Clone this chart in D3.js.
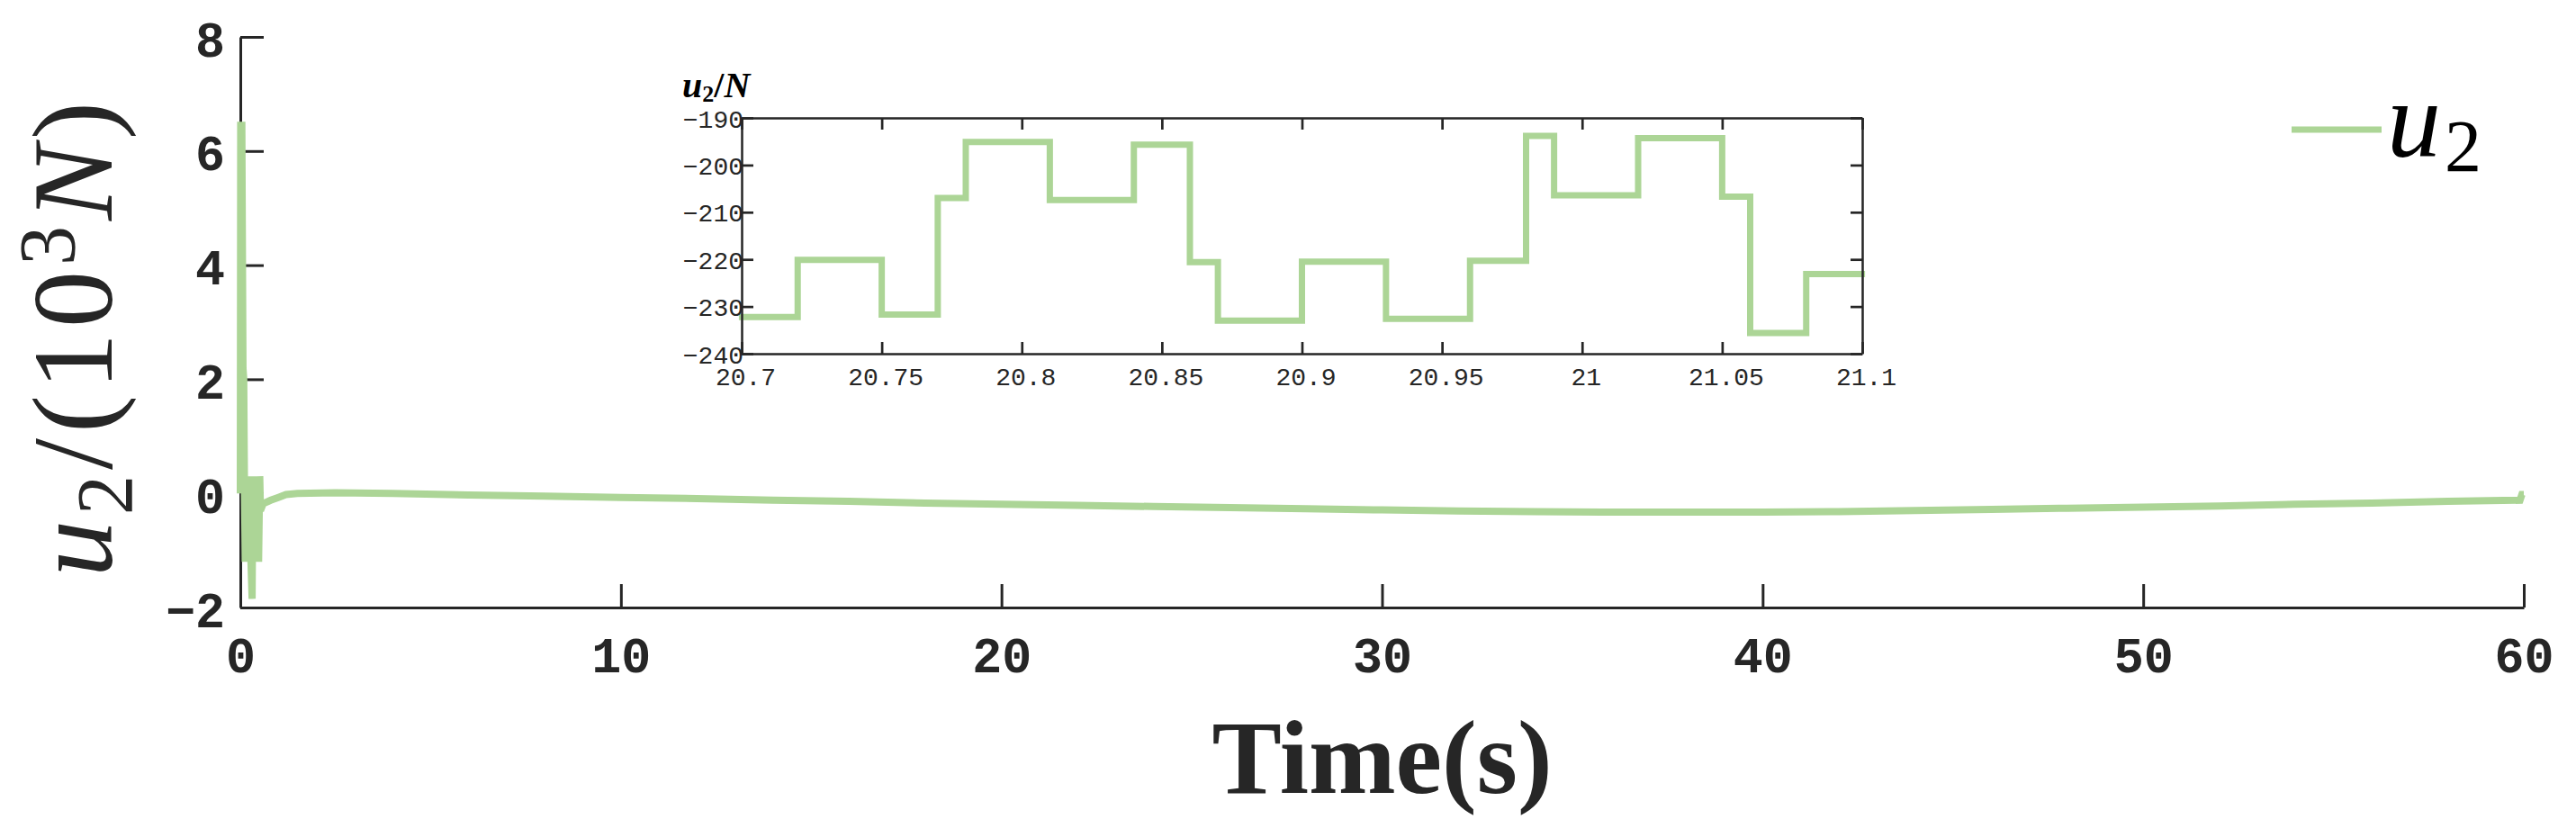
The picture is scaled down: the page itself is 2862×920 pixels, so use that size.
<!DOCTYPE html>
<html>
<head>
<meta charset="utf-8">
<script src="https://cdn.jsdelivr.net/npm/d3@7"></script>
<style>
  html, body { margin: 0; padding: 0; background: #fff; }
  svg { display: block; }
</style>
</head>
<body>
<svg id="chart" width="2862" height="920"></svg>
<script>
// ---------------- data ----------------
const mainTime = [0, 0.01, 0.04, 0.07, 0.09, 0.11, 0.13, 0.15, 0.17, 0.19, 0.21, 0.23, 0.25, 0.28, 0.31, 0.33, 0.36, 0.39, 0.42, 0.45, 0.48, 0.51, 0.53, 0.6, 0.8, 1.0, 1.2, 1.5, 2.5, 4, 6, 8, 10, 12, 14, 16, 18, 20, 22, 24, 26, 28, 30, 32, 34, 36, 38, 40, 42, 44, 46, 48, 50, 52, 54, 56, 58, 59.9, 59.95, 60];
const mainU2 = [0, 6.45, 6.45, 2.2, 2.0, 0.0, -1.2, 0.0, -1.2, 0.0, -1.2, 0.0, 0.3, -1.2, -1.85, 0.3, -1.2, 0.3, -1.2, 0.3, -1.2, 0.3, -0.3, -0.18, -0.12, -0.07, -0.02, 0.0, 0.01, 0.0, -0.03, -0.05, -0.07, -0.09, -0.12, -0.14, -0.17, -0.19, -0.21, -0.23, -0.25, -0.27, -0.29, -0.31, -0.32, -0.33, -0.33, -0.33, -0.32, -0.30, -0.28, -0.26, -0.24, -0.22, -0.19, -0.17, -0.14, -0.12, -0.02, -0.02];

const xTicks = [0, 10, 20, 30, 40, 50, 60];
const yTicks = [-2, 0, 2, 4, 6, 8];

const insetTime = [20.699, 20.72, 20.75, 20.77, 20.78, 20.81, 20.84, 20.86, 20.87, 20.90, 20.93, 20.96, 20.98, 20.99, 21.02, 21.05, 21.06, 21.08, 21.101];
const insetU2 = [-232.2, -220.1, -231.7, -207.0, -195.1, -207.4, -195.7, -220.6, -233.0, -220.5, -232.6, -220.3, -193.8, -206.4, -194.3, -206.7, -235.6, -223.1, -223.1];

const insetXTicks = [20.7, 20.75, 20.8, 20.85, 20.9, 20.95, 21, 21.05, 21.1];
const insetXLabels = ["20.7", "20.75", "20.8", "20.85", "20.9", "20.95", "21", "21.05", "21.1"];
const insetYTicks = [-240, -230, -220, -210, -200, -190];

const seriesName = "u";
const seriesSub = "2";

// ---------------- styles ----------------
const GREEN = "#acd596";
const INK = "#262626";

const svg = d3.select("#chart");
svg.append("rect").attr("width", 2862).attr("height", 920).attr("fill", "#fff");

// ---------------- main plot ----------------
const x = d3.scaleLinear().domain([0, 60]).range([267, 2804]);
const y = d3.scaleLinear().domain([-2, 8]).range([675, 41]);

const gx = svg.append("g").attr("transform", `translate(0,${y(-2)})`)
  .call(d3.axisBottom(x).tickValues(xTicks).tickSizeInner(-26).tickSizeOuter(0).tickFormat(d3.format("d")));
gx.select(".domain").attr("stroke", INK).attr("stroke-width", 3);
gx.selectAll(".tick line").attr("stroke", INK).attr("stroke-width", 3);
gx.selectAll(".tick text")
  .attr("y", 72).attr("dy", null)
  .attr("fill", INK)
  .style("font-family", "'Liberation Mono', 'Courier New', monospace")
  .style("font-weight", "bold")
  .style("font-size", "55px");

const gy = svg.append("g").attr("transform", `translate(${x(0)},0)`)
  .call(d3.axisLeft(y).tickValues(yTicks).tickSizeInner(-26).tickSizeOuter(0).tickPadding(17));
gy.select(".domain").attr("stroke", INK).attr("stroke-width", 3);
gy.selectAll(".tick line").attr("stroke", INK).attr("stroke-width", 3);
gy.selectAll(".tick text")
  .attr("dy", "21px")
  .attr("fill", INK)
  .style("font-family", "'Liberation Mono', 'Courier New', monospace")
  .style("font-weight", "bold")
  .style("font-size", "55px");

const mainData = mainTime.map((t, i) => [t, mainU2[i]]);
svg.append("path")
  .datum(mainData)
  .attr("fill", "none")
  .attr("stroke", GREEN)
  .attr("stroke-width", 8)
  .attr("stroke-linejoin", "miter")
  .attr("d", d3.line().x(d => x(d[0])).y(d => y(d[1])));

// x label
svg.append("text")
  .attr("x", (x(0) + x(60)) / 2).attr("y", 881)
  .attr("text-anchor", "middle")
  .attr("fill", INK)
  .style("font-family", "'Liberation Serif', 'Times New Roman', serif")
  .style("font-weight", "bold")
  .style("font-size", "116px")
  .text("Time(s)");

// y label
const yl = svg.append("text")
  .attr("transform", "translate(124,374) rotate(-90)")
  .attr("text-anchor", "middle")
  .attr("fill", INK)
  .style("font-family", "'Liberation Serif', 'Times New Roman', serif")
  .style("font-size", "126px")
  .style("letter-spacing", "6px");
yl.append("tspan").style("font-style", "italic").text("u");
yl.append("tspan").attr("dy", 22).style("font-size", "88px").text("2");
yl.append("tspan").attr("dy", -22).text("/(10");
yl.append("tspan").attr("dy", -42).style("font-size", "88px").text("3");
yl.append("tspan").attr("dy", 42).style("font-style", "italic").text("N");
yl.append("tspan").text(")");

// legend
svg.append("line")
  .attr("x1", 2546).attr("x2", 2646).attr("y1", 144).attr("y2", 144)
  .attr("stroke", GREEN).attr("stroke-width", 7);
const lg = svg.append("text")
  .attr("x", 2652).attr("y", 174)
  .attr("fill", "#000")
  .style("font-family", "'Liberation Serif', 'Times New Roman', serif")
  .style("font-size", "120px");
lg.append("tspan").style("font-style", "italic").text(seriesName);
lg.append("tspan").attr("dy", 16).attr("dx", 4).style("font-size", "82px").text(seriesSub);

// ---------------- inset ----------------
const ix = d3.scaleLinear().domain([20.7, 21.1]).range([824, 2069]);
const iy = d3.scaleLinear().domain([-240, -190]).range([393, 131]);

const inset = svg.append("g");
inset.append("rect")
  .attr("x", ix(20.7)).attr("y", iy(-190))
  .attr("width", ix(21.1) - ix(20.7)).attr("height", iy(-240) - iy(-190))
  .attr("fill", "#fff");

const insetData = insetTime.map((t, i) => [t, insetU2[i]]);
inset.append("path")
  .datum(insetData)
  .attr("fill", "none")
  .attr("stroke", GREEN)
  .attr("stroke-width", 7)
  .attr("d", d3.line().curve(d3.curveStepAfter).x(d => ix(d[0])).y(d => iy(d[1])));

const ifont = "'Liberation Mono', 'Courier New', monospace";
const ib = inset.append("g").attr("transform", `translate(0,${iy(-240)})`)
  .call(d3.axisBottom(ix).tickValues(insetXTicks).tickSizeInner(-13).tickSizeOuter(0)
    .tickFormat((d, i) => insetXLabels[i]));
const it = inset.append("g").attr("transform", `translate(0,${iy(-190)})`)
  .call(d3.axisTop(ix).tickValues(insetXTicks).tickSizeInner(-13).tickSizeOuter(0).tickFormat(""));
const il = inset.append("g").attr("transform", `translate(${ix(20.7)},0)`)
  .call(d3.axisLeft(iy).tickValues(insetYTicks).tickSizeInner(-13).tickSizeOuter(0).tickPadding(-2));
const ir = inset.append("g").attr("transform", `translate(${ix(21.1)},0)`)
  .call(d3.axisRight(iy).tickValues(insetYTicks).tickSizeInner(-13).tickSizeOuter(0).tickFormat(""));
[ib, it, il, ir].forEach(g => {
  g.select(".domain").attr("stroke", INK).attr("stroke-width", 2.5);
  g.selectAll(".tick line").attr("stroke", INK).attr("stroke-width", 2.7);
});
ib.selectAll(".tick text")
  .attr("y", 35).attr("dy", null).attr("dx", 4)
  .attr("fill", INK)
  .style("font-family", ifont).style("font-size", "28px");
il.selectAll(".tick text")
  .attr("dy", "10px")
  .attr("fill", INK)
  .style("font-family", ifont).style("font-size", "28px");

// inset title
const itl = inset.append("text")
  .attr("x", 758).attr("y", 108)
  .attr("fill", "#000")
  .style("font-family", "'Liberation Serif', 'Times New Roman', serif")
  .style("font-weight", "bold")
  .style("font-size", "40px");
itl.append("tspan").style("font-style", "italic").text("u");
itl.append("tspan").attr("dy", 5).style("font-size", "26px").text("2");
itl.append("tspan").attr("dy", -5).text("/");
itl.append("tspan").style("font-style", "italic").text("N");
</script>
</body>
</html>
